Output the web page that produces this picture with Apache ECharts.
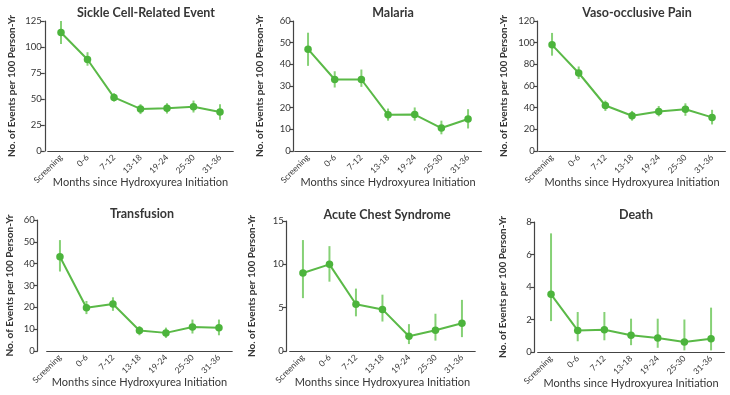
<!DOCTYPE html>
<html>
<head>
<meta charset="utf-8">
<script src="https://cdn.jsdelivr.net/npm/echarts@6/dist/echarts.min.js"></script>
<style>html,body{margin:0;padding:0;background:#fff}#c{width:730px;height:395px}</style>
</head>
<body>
<div id="c"></div>
<script>
const categories = ['Screening', '0-6', '7-12', '13-18', '19-24', '25-30', '31-36'];

const titles = ['Sickle Cell-Related Event', 'Malaria', 'Vaso-occlusive Pain', 'Transfusion', 'Acute Chest Syndrome', 'Death'];

const sickleMean = [114, 88, 51.5, 40.5, 41, 42.5, 37.5];
const sickleLow  = [103, 82, 47.5, 35.5, 36, 37, 30];
const sickleHigh = [125, 95, 55.5, 45, 46, 48.5, 45];

const malariaMean = [47, 33, 33, 16.7, 16.8, 10.6, 14.8];
const malariaLow  = [39.3, 29.3, 29.6, 14, 14, 7.7, 10.4];
const malariaHigh = [54.6, 36.8, 37.6, 19.6, 20.1, 14, 19.3];

const vasoMean = [98, 72, 42, 32.5, 36.5, 38.5, 31];
const vasoLow  = [88, 66.5, 37, 28, 32, 32.5, 24.5];
const vasoHigh = [109, 78, 46.5, 37, 41.5, 44, 38];

const transMean = [43.2, 19.8, 21.5, 9.4, 8.3, 11, 10.6];
const transLow  = [36.4, 16.9, 18.4, 7.2, 6, 8, 7.2];
const transHigh = [50.8, 22.9, 24.6, 11.4, 10.7, 14.4, 14.4];

const acsMean = [9, 10, 5.4, 4.8, 1.7, 2.4, 3.2];
const acsLow  = [6.1, 8, 4, 3.4, 0.8, 1.2, 1.6];
const acsHigh = [12.8, 12.1, 7.2, 6.5, 3.1, 4.3, 5.9];

const deathMean = [3.55, 1.33, 1.37, 1.03, 0.86, 0.62, 0.82];
const deathLow  = [1.9, 0.66, 0.72, 0.42, 0.26, 0.1, 0.1];
const deathHigh = [7.3, 2.46, 2.46, 2.05, 2.05, 2.0, 2.73];

const yMax = [125, 60, 120, 60, 15, 8];
const yInterval = [25, 10, 20, 10, 5, 2];

const xAxisName = 'Months since Hydroxyurea Initiation';
const yAxisName = 'No. of Events per 100 Person-Yr';

const means = [sickleMean, malariaMean, vasoMean, transMean, acsMean, deathMean];
const lows = [sickleLow, malariaLow, vasoLow, transLow, acsLow, deathLow];
const highs = [sickleHigh, malariaHigh, vasoHigh, transHigh, acsHigh, deathHigh];

// layout (pixels)
const grids = [
  {left: 47.75, top: 21, width: 185.5, height: 130, yOff: 3, nameGap: 28, titleX: 141, titleY: 1},
  {left: 294.7, top: 21, width: 186.7, height: 130, yOff: 1, nameGap: 29, titleX: 388, titleY: 1},
  {left: 538.7, top: 21, width: 186.7, height: 130, yOff: 1, nameGap: 29, titleX: 632, titleY: 1},
  {left: 46.7, top: 220, width: 185.5, height: 131, yOff: 9, nameGap: 23, titleX: 137, titleY: 202},
  {left: 289.7, top: 221, width: 185.5, height: 130, yOff: 3, nameGap: 30, titleX: 382, titleY: 203},
  {left: 537.7, top: 222, width: 186.7, height: 130, yOff: 3, nameGap: 27, titleX: 631, titleY: 203}
];

const FONT = "Lato, 'Open Sans', sans-serif";
const TXT = '#363636';
const AX = '#444';
const LINE = '#5ab947';
const ERR = '#86d176';

const option = {
  animation: false,
  backgroundColor: '#fff',
  textStyle: {fontFamily: FONT, color: TXT},
  title: [], grid: [], xAxis: [], yAxis: [], series: []
};

for (let i = 0; i < 6; i++) {
  const g = grids[i];
  option.title.push({
    text: titles[i], left: g.titleX, top: g.titleY, textAlign: 'center',
    textStyle: {fontFamily: FONT, fontSize: 12.5, fontWeight: 'bold', color: TXT}
  });
  option.grid.push({left: g.left, top: g.top, width: g.width, height: g.height, containLabel: false});
  option.xAxis.push({
    type: 'category', gridIndex: i, data: categories, boundaryGap: true,
    name: xAxisName, nameLocation: 'middle', nameGap: 26, nameMoveOverlap: false,
    nameTextStyle: {fontFamily: FONT, fontSize: 11, color: TXT},
    axisLine: {lineStyle: {color: AX, width: 1.2}},
    axisTick: {alignWithLabel: true, interval: 0, length: 5, lineStyle: {color: AX, width: 1.2}},
    axisLabel: {interval: 0, rotate: 45, fontFamily: FONT, fontSize: 8.5, color: TXT, margin: 5}
  });
  option.yAxis.push({
    type: 'value', gridIndex: i, min: 0, max: yMax[i], interval: yInterval[i], offset: g.yOff,
    name: yAxisName, nameLocation: 'middle', nameGap: g.nameGap, nameRotate: 90, nameMoveOverlap: false,
    nameTextStyle: {fontFamily: FONT, fontSize: 10, fontWeight: 'bold', color: TXT},
    axisLine: {show: true, lineStyle: {color: AX, width: 1.2}},
    axisTick: {show: true, length: 4, lineStyle: {color: AX, width: 1.2}},
    axisLabel: {fontFamily: FONT, fontSize: 9.5, color: TXT, margin: 3},
    splitLine: {show: false}
  });
  const errData = categories.map((c, k) => [k, lows[i][k], highs[i][k]]);
  option.series.push({
    type: 'custom', xAxisIndex: i, yAxisIndex: i, data: errData, z: 2,
    renderItem: function (params, api) {
      const p1 = api.coord([api.value(0), api.value(1)]);
      const p2 = api.coord([api.value(0), api.value(2)]);
      return {type: 'line', shape: {x1: p1[0], y1: p1[1], x2: p2[0], y2: p2[1]},
        style: {stroke: ERR, lineWidth: 2}};
    }
  });
  option.series.push({
    type: 'line', xAxisIndex: i, yAxisIndex: i, data: means[i], z: 3,
    symbol: 'circle', symbolSize: 7.5,
    lineStyle: {color: LINE, width: 2},
    itemStyle: {color: '#4cb43c'}
  });
}

const chart = echarts.init(document.getElementById('c'), null, {renderer: 'canvas'});
chart.setOption(option);
</script>
</body>
</html>
